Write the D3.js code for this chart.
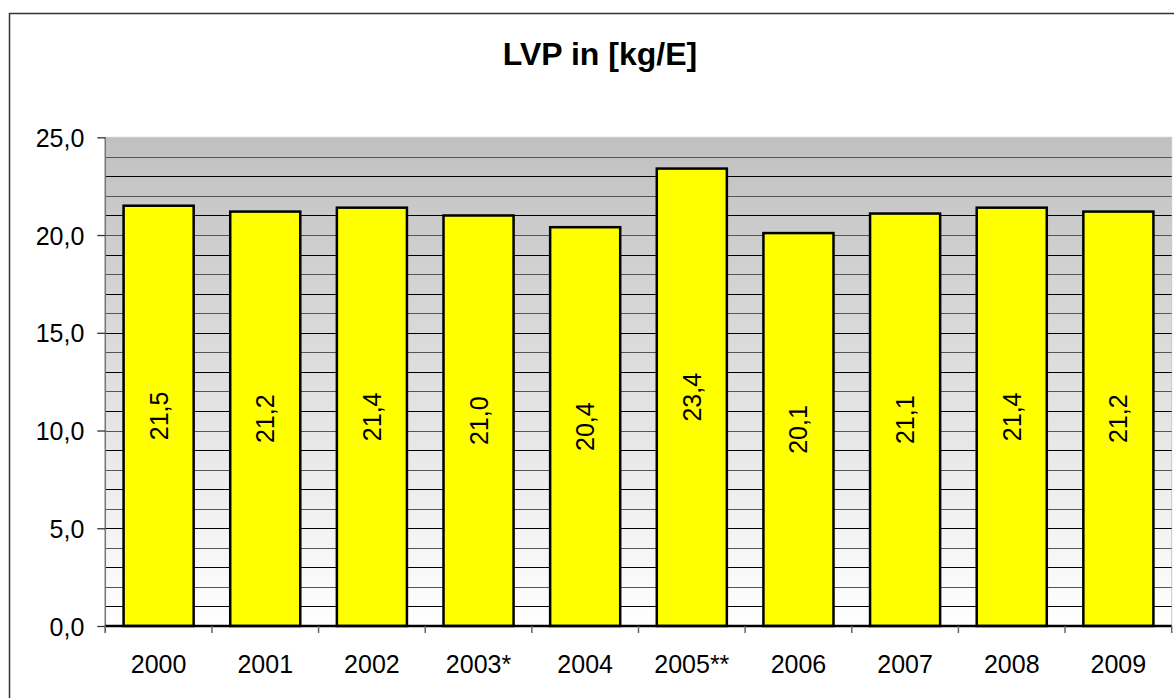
<!DOCTYPE html>
<html>
<head>
<meta charset="utf-8">
<script src="https://cdn.jsdelivr.net/npm/d3@7"></script>
<style>
html,body{margin:0;padding:0;background:#fff;}
svg{display:block;font-family:"Liberation Sans",Arial,Helvetica,sans-serif;}
</style>
</head>
<body>
<svg id="chart" width="1174" height="698"></svg>
<script>
const title = "LVP in [kg/E]";
const categories = ["2000","2001","2002","2003*","2004","2005**","2006","2007","2008","2009"];
const values = [21.5, 21.2, 21.4, 21.0, 20.4, 23.4, 20.1, 21.1, 21.4, 21.2];
const yTicks = [0, 5, 10, 15, 20, 25];
const gridValues = d3.range(1, 25);

(function () {
const svg = d3.select("#chart");
const fmt = v => v.toFixed(1).replace(".", ",");

const pLeft = 105.3, pRight = 1171.7, pTop = 137.3, pBottom = 626;

// outer border
svg.append("rect").attr("x", 9.5).attr("y", 13.5).attr("width", 1300).attr("height", 800)
  .attr("fill", "none").attr("stroke", "#333").attr("stroke-width", 1.5);

// title
svg.append("text").attr("x", 600).attr("y", 65).attr("text-anchor", "middle")
  .attr("font-size", 32).attr("font-weight", "bold").attr("fill", "#000").text(title);

const x = d3.scaleBand().domain(categories).range([pLeft, pRight]).paddingInner(0.343).paddingOuter(0.1715);
const xb = d3.scaleBand().domain(categories).range([pLeft, pRight]);
const y = d3.scaleLinear().domain([0, 25]).range([pBottom, pTop]);

// gradient background
const defs = svg.append("defs");
const grad = defs.append("linearGradient").attr("id", "bg").attr("x1", 0).attr("y1", 0).attr("x2", 0).attr("y2", 1);
grad.append("stop").attr("offset", "0%").attr("stop-color", "#c0c0c0");
grad.append("stop").attr("offset", "100%").attr("stop-color", "#ffffff");

svg.append("rect").attr("x", pLeft).attr("y", pTop).attr("width", pRight - pLeft).attr("height", pBottom - pTop)
  .attr("fill", "url(#bg)").attr("stroke", "#c8c8c8").attr("stroke-width", 1);

// gridlines
svg.append("g").selectAll("line").data(gridValues).join("line")
  .attr("x1", pLeft).attr("x2", pRight)
  .attr("y1", d => Math.round(y(d)) + 0.5).attr("y2", d => Math.round(y(d)) + 0.5)
  .attr("stroke", d => d % 2 === 0 ? "#555" : "#000").attr("stroke-width", 1.2);

// bars
svg.append("g").selectAll("rect").data(values).join("rect")
  .attr("x", (d, i) => x(categories[i]))
  .attr("width", x.bandwidth())
  .attr("y", d => y(d))
  .attr("height", d => pBottom - y(d))
  .attr("fill", "#ffff00").attr("stroke", "#000").attr("stroke-width", 2.5);

// bar labels
svg.append("g").selectAll("text").data(values).join("text")
  .attr("transform", (d, i) => `translate(${x(categories[i]) + x.bandwidth() / 2 + 9},${(y(d) + pBottom) / 2}) rotate(-90)`)
  .attr("text-anchor", "middle").attr("font-size", 25).attr("fill", "#000")
  .text(d => fmt(d));

// y axis
const yAxis = d3.axisLeft(y).tickValues(yTicks).tickFormat(fmt).tickSize(8).tickPadding(13);
const gy = svg.append("g").attr("transform", `translate(${pLeft},0)`).call(yAxis);
gy.select(".domain").attr("stroke", "#777").attr("stroke-width", 1.5).attr("d", `M0,${pTop}V${pBottom + 7}`);
gy.selectAll(".tick line").attr("stroke", "#333").attr("stroke-width", 1.3);
gy.selectAll(".tick text").attr("font-size", 25).attr("fill", "#000").attr("font-family", "\"Liberation Sans\",Arial,sans-serif").attr("dy", "0.36em");

// x axis
const gx = svg.append("g").attr("transform", `translate(0,${pBottom})`);
gx.append("line").attr("x1", pLeft).attr("x2", pRight).attr("y1", 0).attr("y2", 0)
  .attr("stroke", "#000").attr("stroke-width", 2.5);
gx.selectAll("line.tk").data(categories.concat(["end"])).join("line").attr("class", "tk")
  .attr("x1", (d, i) => i < categories.length ? xb(d) : pRight)
  .attr("x2", (d, i) => i < categories.length ? xb(d) : pRight)
  .attr("y1", 0).attr("y2", 7).attr("stroke", "#666").attr("stroke-width", 1.5);
gx.selectAll("text").data(categories).join("text")
  .attr("x", d => xb(d) + xb.bandwidth() / 2).attr("y", 47)
  .attr("text-anchor", "middle").attr("font-size", 25).attr("fill", "#000")
  .text(d => d);
})();
</script>
</body>
</html>
